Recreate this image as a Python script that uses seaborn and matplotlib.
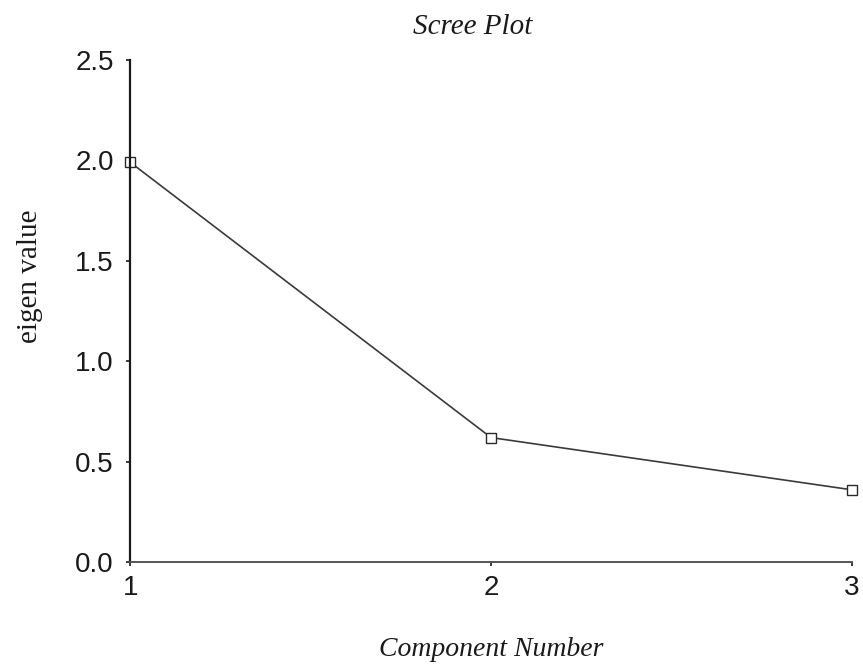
import pandas as pd
import matplotlib
matplotlib.use("Agg")
import matplotlib.pyplot as plt
import seaborn as sns

# scree plot values
components = [1, 2, 3]
eigen_values = [1.99, 0.62, 0.36]
y_ticks = [0.0, 0.5, 1.0, 1.5, 2.0, 2.5]
y_tick_labels = ["0.0", "0.5", "1.0", "1.5", "2.0", "2.5"]

df = pd.DataFrame({"component": components, "eigen": eigen_values})

sns.set_style("white")
plt.rcParams["font.family"] = ["Liberation Sans", "DejaVu Sans"]

fig = plt.figure(figsize=(8.63, 6.66), dpi=100)
ax = fig.add_axes([0.151, 0.156, 0.836, 0.754])

sns.lineplot(data=df, x="component", y="eigen", ax=ax, color="#3a3a3a",
             linewidth=1.2, marker="s", markersize=7, markerfacecolor="white",
             markeredgecolor="#2a2a2a", markeredgewidth=1.0, clip_on=False)

ax.set_xlim(1, 3)
ax.set_ylim(0, 2.5)
ax.set_xticks(components)
ax.set_xticklabels([str(c) for c in components])
ax.set_yticks(y_ticks)
ax.set_yticklabels(y_tick_labels)
ax.tick_params(axis="both", labelsize=20, colors="#1a1a1a", length=3,
               width=1.2, direction="out", left=True, bottom=True)
ax.tick_params(axis="y", pad=9)
ax.tick_params(axis="x", pad=6)

for side in ["top", "right"]:
    ax.spines[side].set_visible(False)
ax.spines["left"].set_color("#1a1a1a")
ax.spines["left"].set_linewidth(1.6)
ax.spines["bottom"].set_color("#555555")
ax.spines["bottom"].set_linewidth(1.4)

ax.set_title("Scree Plot", family="Liberation Serif", style="italic",
             fontsize=21, color="#1a1a1a", x=0.474, y=1.0, pad=19)
ax.set_xlabel("Component Number", family="Liberation Serif", style="italic",
              fontsize=20, color="#1a1a1a")
ax.xaxis.set_label_coords(0.5, -0.149)
ax.set_ylabel("eigen value", family="Liberation Serif", fontsize=21,
              color="#1a1a1a")
ax.yaxis.set_label_coords(-0.121, 0.57)

fig.savefig("out.png", dpi=100)
